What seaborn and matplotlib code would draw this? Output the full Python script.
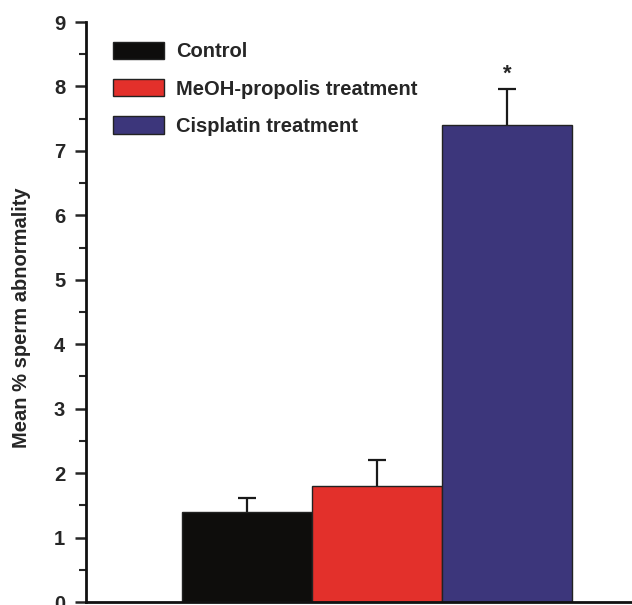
import matplotlib
matplotlib.use("Agg")
import matplotlib.pyplot as plt
import seaborn as sns
import pandas as pd
from matplotlib.ticker import MultipleLocator

# Mean percentage of abnormal sperm per treatment group
groups = ["Control", "MeOH-propolis treatment", "Cisplatin treatment"]
means = [1.4, 1.8, 7.4]
errors = [0.22, 0.40, 0.56]
bar_colors = ["#0e0d0c", "#e3302b", "#3c367b"]
significance = ["", "", "*"]

sns.set_theme(style="ticks")
plt.rcParams["font.family"] = ["Liberation Sans", "DejaVu Sans"]
plt.rcParams["font.weight"] = "bold"

df = pd.DataFrame({"group": groups, "mean": means})

fig = plt.figure(figsize=(6.32, 6.05), dpi=100)
ax = fig.add_axes([86 / 632, 3 / 605, 546 / 632, 580 / 605])

sns.barplot(data=df, x="group", y="mean", hue="group", palette=bar_colors,
            width=1.0, edgecolor="#222222", linewidth=1.0, legend=True, ax=ax,
            saturation=1.0)

# one-sided (upper) error bars: hide the lower cap
xs = list(range(len(groups)))
eb = ax.errorbar(xs, means, yerr=[[0] * len(means), errors], fmt="none",
                 ecolor="#1a1a1a", elinewidth=1.6, capsize=6.5, capthick=1.6)
eb[1][0].set_visible(False)

for x, m, e, s in zip(xs, means, errors, significance):
    if s:
        ax.text(x, m + e + 0.06, s, ha="center", va="bottom",
                fontsize=16, fontweight="bold")

ax.set_xlim(-1.24, 2.96)
ax.set_ylim(0, 9)
ax.yaxis.set_major_locator(MultipleLocator(1))
ax.yaxis.set_minor_locator(MultipleLocator(0.5))
ax.tick_params(axis="y", which="major", length=8, width=1.8, labelsize=14.5,
               direction="out", pad=7)
ax.tick_params(axis="y", which="minor", length=5, width=1.5, direction="out")
ax.tick_params(axis="x", which="both", length=0, labelbottom=False)
for lbl in ax.get_yticklabels():
    lbl.set_fontweight("bold")
ax.set_xlabel("")
ax.set_ylabel("Mean % sperm abnormality", fontsize=14.5, fontweight="bold")
ax.yaxis.set_label_coords(-0.100, 0.491)

for side in ["left", "bottom"]:
    ax.spines[side].set_linewidth(2.0)
    ax.spines[side].set_color("#111111")
for side in ["top", "right"]:
    ax.spines[side].set_visible(False)

leg = ax.legend(loc="upper left", bbox_to_anchor=(0.028, 0.987), frameon=False,
                prop={"weight": "bold", "size": 14.5}, handlelength=2.5,
                handleheight=0.95, labelspacing=0.88, handletextpad=0.6,
                borderaxespad=0.2)

fig.savefig("out.png", dpi=100)
